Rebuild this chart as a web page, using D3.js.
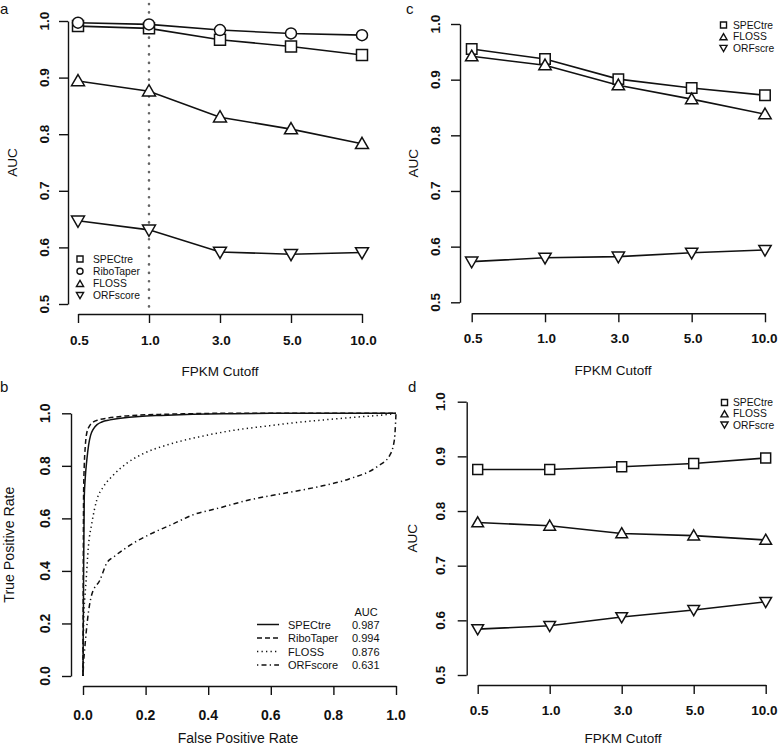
<!DOCTYPE html>
<html>
<head>
<meta charset="utf-8">
<script src="https://cdn.jsdelivr.net/npm/d3@7/dist/d3.min.js"></script>
<style>
  body { margin: 0; background: #fff; }
  svg { display: block; font-family: "Liberation Sans", Arial, Helvetica, sans-serif; }
</style>
</head>
<body>
<svg id="chart" width="778" height="746"></svg>
<script>
// ---------- DATA ----------
const cutoffs = ["0.5", "1.0", "3.0", "5.0", "10.0"];
const aucTicks = [0.5, 0.6, 0.7, 0.8, 0.9, 1.0];
const rateTicks = [0.0, 0.2, 0.4, 0.6, 0.8, 1.0];

// panel a
const aSPECtre   = [0.991, 0.987, 0.967, 0.955, 0.940];
const aRiboTaper = [0.997, 0.994, 0.984, 0.978, 0.975];
const aFLOSS     = [0.894, 0.876, 0.830, 0.809, 0.783];
const aORFscore  = [0.647, 0.631, 0.592, 0.588, 0.591];
// panel c
const cSPECtre   = [0.955, 0.937, 0.901, 0.885, 0.872];
const cFLOSS     = [0.942, 0.926, 0.890, 0.865, 0.838];
const cORFscore  = [0.573, 0.580, 0.582, 0.589, 0.594];
// panel d
const dSPECtre   = [0.876, 0.876, 0.881, 0.887, 0.897];
const dFLOSS     = [0.779, 0.773, 0.759, 0.755, 0.747];
const dORFscore  = [0.584, 0.590, 0.606, 0.619, 0.634];

// panel b ROC curves
const rocSPECtreFPR = [0, 0.002, 0.004, 0.007, 0.012, 0.018, 0.024, 0.033, 0.045, 0.06, 0.086, 0.12, 0.18, 0.25, 0.35, 0.45, 0.6, 1.0];
const rocSPECtreTPR = [0, 0.40, 0.68, 0.75, 0.82, 0.88, 0.915, 0.940, 0.957, 0.967, 0.975, 0.981, 0.988, 0.992, 0.996, 0.998, 1.0, 1.0];
const rocRiboTaperFPR = [0, 0.001, 0.002, 0.004, 0.007, 0.012, 0.02, 0.032, 0.05, 0.08, 0.12, 0.18, 0.25, 0.32, 0.45, 0.56, 1.0];
const rocRiboTaperTPR = [0, 0.45, 0.70, 0.80, 0.87, 0.925, 0.950, 0.966, 0.975, 0.982, 0.988, 0.993, 0.996, 0.998, 1.0, 1.0, 1.0];
const rocFLOSSFPR = [0, 0.001, 0.003, 0.006, 0.010, 0.017, 0.028, 0.044, 0.065, 0.097, 0.14, 0.19, 0.27, 0.37, 0.48, 0.59, 0.69, 0.80, 0.90, 0.97, 1.0];
const rocFLOSSTPR = [0, 0.12, 0.24, 0.30, 0.365, 0.49, 0.58, 0.67, 0.72, 0.765, 0.81, 0.845, 0.88, 0.91, 0.935, 0.952, 0.966, 0.978, 0.988, 0.995, 1.0];
const rocORFscoreFPR = [0, 0.002, 0.006, 0.014, 0.028, 0.054, 0.076, 0.10, 0.16, 0.22, 0.29, 0.35, 0.43, 0.53, 0.64, 0.75, 0.85, 0.94, 0.98, 0.995, 1.0];
const rocORFscoreTPR = [0, 0.05, 0.11, 0.21, 0.31, 0.365, 0.43, 0.455, 0.505, 0.543, 0.58, 0.613, 0.638, 0.67, 0.695, 0.72, 0.75, 0.797, 0.84, 0.90, 1.0];

const rocNames = ["SPECtre", "RiboTaper", "FLOSS", "ORFscore"];
const rocAUC = ["0.987", "0.994", "0.876", "0.631"];

// ---------- DRAWING ----------
const svg = d3.select("#chart");
const INK = "#111";
const W = 778;

const symbolFor = {
  square: d3.symbolSquare,
  circle: d3.symbolCircle,
  up: d3.symbolTriangle,
  down: d3.symbolTriangle
};
function markerPath(kind, scale) {
  const side = 11 * scale;
  let size;
  if (kind === "square") size = side * side;
  else if (kind === "circle") size = Math.PI * Math.pow(side / 2, 2);
  else size = Math.pow(side * 1.18, 2) * Math.sqrt(3) / 4;
  return d3.symbol().type(symbolFor[kind]).size(size)();
}
function drawMarker(g, kind, x, y, scale, sw) {
  g.append("path")
    .attr("d", markerPath(kind, scale))
    .attr("transform", `translate(${x},${y})` + (kind === "down" ? " rotate(180)" : "") + (kind === "up" || kind === "down" ? " translate(0,1)" : ""))
    .attr("fill", "#fff")
    .attr("stroke", INK)
    .attr("stroke-width", sw);
}
function keepInside(t) {
  const n = t.node();
  const bb = n.getBBox();
  if (bb.x + bb.width > W - 0.5) {
    t.attr("x", +t.attr("x") - (bb.x + bb.width - (W - 0.5)));
  }
}

function fpkmPanel(cfg) {
  const g = svg.append("g");
  const x = d3.scalePoint().domain(cutoffs).range([cfg.x0, cfg.x1]);
  const y = d3.scaleLinear().domain([0.5, 1.0]).range([cfg.y05, cfg.y1]);

  // y axis
  const yAx = g.append("g").attr("transform", `translate(${cfg.yAxisX},0)`)
    .call(d3.axisLeft(y).tickValues(aucTicks).tickSize(9).tickSizeOuter(0).tickFormat(d3.format(".1f")));
  yAx.select(".domain").attr("stroke", INK).attr("stroke-width", 1.4);
  yAx.selectAll(".tick line").attr("stroke", INK).attr("stroke-width", 1.4);
  yAx.selectAll(".tick text").remove();
  aucTicks.forEach(v => {
    g.append("text").attr("transform", `translate(${cfg.yLabX},${y(v)}) rotate(-90)`)
      .attr("text-anchor", "middle").attr("font-size", 13.5).attr("font-weight", "bold").attr("fill", INK)
      .text(d3.format(".1f")(v));
  });

  // x axis
  const xAx = g.append("g").attr("transform", `translate(0,${cfg.xAxisY})`)
    .call(d3.axisBottom(x).tickSize(9).tickSizeOuter(0));
  xAx.select(".domain").attr("stroke", INK).attr("stroke-width", 1.4);
  xAx.selectAll(".tick line").attr("stroke", INK).attr("stroke-width", 1.4);
  xAx.selectAll(".tick text").remove();
  cutoffs.forEach(c => {
    const t = g.append("text").attr("x", x(c) + 1.5).attr("y", cfg.xLabY)
      .attr("text-anchor", "middle").attr("font-size", 13.5).attr("font-weight", "bold").attr("fill", INK)
      .text(c);
    keepInside(t);
  });

  // titles
  g.append("text").attr("x", cfg.titleX).attr("y", cfg.titleY).attr("text-anchor", "middle")
    .attr("font-size", 13.5).attr("fill", INK).text("FPKM Cutoff");
  g.append("text").attr("transform", `translate(${cfg.aucX},${(cfg.y05 + cfg.y1) / 2}) rotate(-90)`)
    .attr("text-anchor", "middle").attr("font-size", 13.5).attr("fill", INK).text("AUC");
  g.append("text").attr("x", cfg.letterX).attr("y", cfg.letterY).attr("font-size", 15).attr("fill", INK).text(cfg.letter);

  if (cfg.vline) {
    g.append("line").attr("x1", x(cfg.vline)).attr("x2", x(cfg.vline))
      .attr("y1", 4).attr("y2", cfg.xAxisY - 5)
      .attr("stroke", "#666").attr("stroke-width", 2.6).attr("stroke-linecap", "round")
      .attr("stroke-dasharray", "0.1,8.3");
  }

  const line = d3.line().x((d, i) => x(cutoffs[i])).y(d => y(d));
  cfg.series.forEach(s => {
    g.append("path").datum(s.values).attr("d", line)
      .attr("fill", "none").attr("stroke", INK).attr("stroke-width", 1.6);
  });
  cfg.series.forEach(s => {
    s.values.forEach((v, i) => drawMarker(g, s.kind, x(cutoffs[i]), y(v), cfg.mScale, 1.5));
  });

  // legend
  cfg.series.forEach((s, i) => {
    const ly = cfg.legY + i * cfg.legStep;
    drawMarker(g, s.kind, cfg.legSymX, ly, 0.55, 1.4);
    g.append("text").attr("x", cfg.legTextX).attr("y", ly + 3.6)
      .attr("font-size", 10.3).attr("fill", INK).text(s.name);
  });
}

// Panel a
fpkmPanel({
  letter: "a", letterX: 0, letterY: 14,
  x0: 78, x1: 362, y05: 304, y1: 21, yAxisX: 68, xAxisY: 314,
  yLabX: 49, xLabY: 345, titleX: 220, titleY: 376, aucX: 17,
  vline: "1.0", mScale: 1.0,
  series: [
    { name: "SPECtre", kind: "square", values: aSPECtre },
    { name: "RiboTaper", kind: "circle", values: aRiboTaper },
    { name: "FLOSS", kind: "up", values: aFLOSS },
    { name: "ORFscore", kind: "down", values: aORFscore }
  ],
  legSymX: 80, legTextX: 93, legY: 259, legStep: 12.2
});

// Panel c
fpkmPanel({
  letter: "c", letterX: 406, letterY: 14,
  x0: 471.7, x1: 765, y05: 302.3, y1: 24, yAxisX: 460, xAxisY: 313.3,
  yLabX: 440, xLabY: 343, titleX: 613, titleY: 375, aucX: 418,
  mScale: 0.95,
  series: [
    { name: "SPECtre", kind: "square", values: cSPECtre },
    { name: "FLOSS", kind: "up", values: cFLOSS },
    { name: "ORFscre", kind: "down", values: cORFscore }
  ],
  legSymX: 723.5, legTextX: 733, legY: 25, legStep: 11.7
});

// Panel d
fpkmPanel({
  letter: "d", letterX: 408, letterY: 392,
  x0: 477.7, x1: 765.7, y05: 675, y1: 401.7, yAxisX: 466.7, xAxisY: 685,
  yLabX: 445, xLabY: 715, titleX: 623, titleY: 742.5, aucX: 417,
  mScale: 0.9,
  series: [
    { name: "SPECtre", kind: "square", values: dSPECtre },
    { name: "FLOSS", kind: "up", values: dFLOSS },
    { name: "ORFscre", kind: "down", values: dORFscore }
  ],
  legSymX: 724.5, legTextX: 733, legY: 402.5, legStep: 11.3
});

// Panel b: ROC
(function () {
  const g = svg.append("g");
  const x = d3.scaleLinear().domain([0, 1]).range([83, 396]);
  const y = d3.scaleLinear().domain([0, 1]).range([676, 413.3]);

  const yAx = g.append("g").attr("transform", "translate(71,0)")
    .call(d3.axisLeft(y).tickValues(rateTicks).tickSize(9).tickSizeOuter(0));
  yAx.select(".domain").attr("stroke", INK).attr("stroke-width", 1.4);
  yAx.selectAll(".tick line").attr("stroke", INK).attr("stroke-width", 1.4);
  yAx.selectAll(".tick text").remove();
  rateTicks.forEach(v => {
    g.append("text").attr("transform", `translate(50,${y(v)}) rotate(-90)`)
      .attr("text-anchor", "middle").attr("font-size", 14).attr("font-weight", "bold").attr("fill", INK)
      .text(d3.format(".1f")(v));
  });

  const xAx = g.append("g").attr("transform", "translate(0,686)")
    .call(d3.axisBottom(x).tickValues(rateTicks).tickSize(9).tickSizeOuter(0));
  xAx.select(".domain").attr("stroke", INK).attr("stroke-width", 1.4);
  xAx.selectAll(".tick line").attr("stroke", INK).attr("stroke-width", 1.4);
  xAx.selectAll(".tick text").remove();
  rateTicks.forEach(v => {
    g.append("text").attr("x", x(v)).attr("y", 719.5)
      .attr("text-anchor", "middle").attr("font-size", 14).attr("font-weight", "bold").attr("fill", INK)
      .text(d3.format(".1f")(v));
  });

  g.append("text").attr("x", 238).attr("y", 742.5).attr("text-anchor", "middle")
    .attr("font-size", 14).attr("fill", INK).text("False Positive Rate");
  g.append("text").attr("transform", `translate(14,${(413.3 + 676) / 2}) rotate(-90)`)
    .attr("text-anchor", "middle").attr("font-size", 14.2).attr("fill", INK).text("True Positive Rate");
  g.append("text").attr("x", 0).attr("y", 392).attr("font-size", 15).attr("fill", INK).text("b");

  const dashes = ["none", "5,3", "1.3,3.2", "1.3,3.2,5,3.2"];
  const rocs = [
    [rocSPECtreFPR, rocSPECtreTPR],
    [rocRiboTaperFPR, rocRiboTaperTPR],
    [rocFLOSSFPR, rocFLOSSTPR],
    [rocORFscoreFPR, rocORFscoreTPR]
  ];
  const line = d3.line().x(d => x(d[0])).y(d => y(d[1])).curve(d3.curveMonotoneX);
  [3, 2, 0, 1].forEach(k => {
    const pts = rocs[k][0].map((f, i) => [f, rocs[k][1][i]]);
    g.append("path").datum(pts).attr("d", line)
      .attr("fill", "none").attr("stroke", INK).attr("stroke-width", 1.5)
      .attr("stroke-dasharray", dashes[k]);
  });

  // legend
  g.append("text").attr("x", 366).attr("y", 616).attr("text-anchor", "middle")
    .attr("font-size", 11).attr("fill", INK).text("AUC");
  rocNames.forEach((n, i) => {
    const ly = 624.5 + i * 13.5;
    g.append("line").attr("x1", 257).attr("x2", 279).attr("y1", ly).attr("y2", ly)
      .attr("stroke", INK).attr("stroke-width", 1.5).attr("stroke-dasharray", dashes[i]);
    g.append("text").attr("x", 288).attr("y", ly + 4).attr("font-size", 11).attr("fill", INK).text(n);
    g.append("text").attr("x", 352).attr("y", ly + 4).attr("font-size", 11).attr("fill", INK).text(rocAUC[i]);
  });
})();
</script>
</body>
</html>
